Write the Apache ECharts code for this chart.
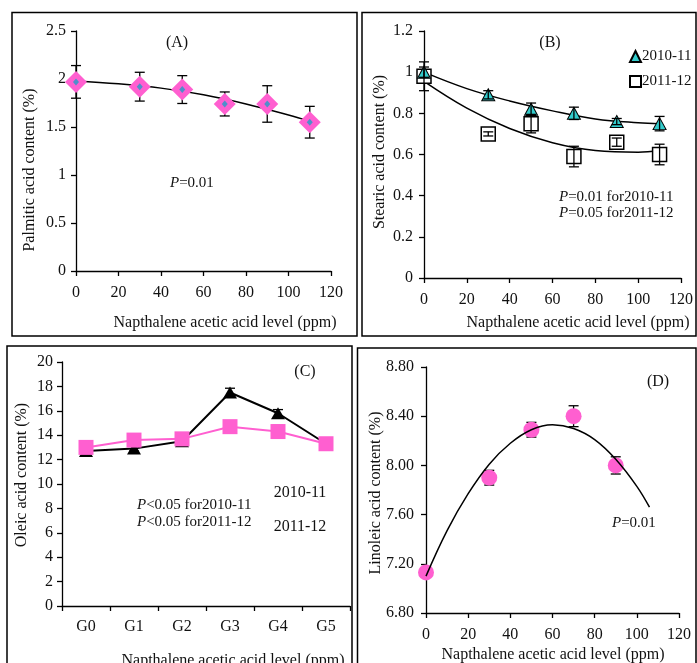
<!DOCTYPE html>
<html>
<head>
<meta charset="utf-8">
<script src="https://cdn.jsdelivr.net/npm/echarts@6/dist/echarts.min.js"></script>
<style>html,body{margin:0;padding:0;background:#fff}#c{width:697px;height:663px}</style>
</head>
<body>
<div id="c"></div>
<script>
// ---- Panel A: palmitic acid ----
const naaLevels = [0, 30, 50, 70, 90, 110];
const palmitic = [1.97, 1.92, 1.89, 1.74, 1.74, 1.55];
const palmiticErr = [0.17, 0.15, 0.145, 0.125, 0.19, 0.165];
const palmiticTrendX = [0, 20, 40, 60, 80, 100, 110];
const palmiticTrend = [1.98, 1.95, 1.905, 1.835, 1.74, 1.625, 1.56];

// ---- Panel B: stearic acid ----
const stearic1011 = [1.0, 0.89, 0.82, 0.80, 0.76, 0.75];
const stearic1011Err = [0.025, 0.02, 0.03, 0.03, 0.015, 0.035];
const stearic1112 = [0.98, 0.70, 0.75, 0.59, 0.66, 0.60];
const stearic1112Err = [0.07, 0.01, 0.045, 0.05, 0.02, 0.05];
const stearicTrendX = [0, 20, 40, 60, 80, 100, 110];
const stearicTrend1011 = [1.0, 0.92, 0.86, 0.812, 0.773, 0.754, 0.75];
const stearicTrend1112 = [0.955, 0.825, 0.726, 0.657, 0.619, 0.611, 0.619];

// ---- Panel C: oleic acid ----
const groups = ['G0', 'G1', 'G2', 'G3', 'G4', 'G5'];
const oleic1011 = [12.7, 12.9, 13.5, 17.5, 15.8, 13.3];
const oleic1011Err = [0.2, 0.2, 0.2, 0.35, 0.3, 0.2];
const oleic1112 = [13.0, 13.6, 13.7, 14.7, 14.3, 13.3];
const oleic1112Err = [0.2, 0.2, 0.2, 0.2, 0.5, 0.2];

// ---- Panel D: linoleic acid ----
const naaLevelsD = [0, 30, 50, 70, 90];
const linoleic = [7.13, 7.90, 8.29, 8.40, 8.00];
const linoleicErr = [0.03, 0.06, 0.06, 0.085, 0.07];
const linoleicTrendX = [0, 10, 20, 30, 40, 50, 60, 70, 80, 90, 100, 106];
const linoleicTrend = [7.10, 7.47, 7.77, 8.01, 8.18, 8.29, 8.33, 8.30, 8.21, 8.05, 7.83, 7.66];

// tick labels
const yTicksD = ['6.80', '7.20', '7.60', '8.00', '8.40', '8.80'];

const FONT = 'Liberation Serif';
const PINK = '#ff5fd0';
const TXT = '#111';

function zip(xs, ys) { return xs.map((x, i) => [x, ys[i]]); }
function zip3(xs, ys, es) { return xs.map((x, i) => [x, ys[i], es[i]]); }

function errRender(capW) {
  return function (params, api) {
    const x = api.value(0), y = api.value(1), e = api.value(2);
    const t = api.coord([x, y + e]);
    const b = api.coord([x, y - e]);
    const hw = capW / 2;
    const st = { stroke: '#000', lineWidth: 1.3 };
    return {
      type: 'group',
      children: [
        { type: 'line', shape: { x1: t[0], y1: t[1], x2: b[0], y2: b[1] }, style: st },
        { type: 'line', shape: { x1: t[0] - hw, y1: t[1], x2: t[0] + hw, y2: t[1] }, style: st },
        { type: 'line', shape: { x1: b[0] - hw, y1: b[1], x2: b[0] + hw, y2: b[1] }, style: st }
      ]
    };
  };
}

const axisCommon = {
  axisLine: { show: true, lineStyle: { color: '#000', width: 1.3 } },
  axisTick: { show: true, length: 5, inside: false, lineStyle: { color: '#000', width: 1.3 } },
  splitLine: { show: false },
  axisLabel: { color: TXT, fontFamily: FONT, fontSize: 16 }
};
function xVal(gi, margin) {
  return Object.assign({}, axisCommon, { gridIndex: gi, type: 'value', min: 0, max: 120, interval: 20,
    axisLabel: Object.assign({}, axisCommon.axisLabel, { margin: margin }) });
}
function yVal(gi, min, max, interval, margin, fmt) {
  const o = Object.assign({}, axisCommon, { gridIndex: gi, type: 'value', min: min, max: max, interval: interval,
    axisLabel: Object.assign({}, axisCommon.axisLabel, { margin: margin }) });
  if (fmt) o.axisLabel.formatter = fmt;
  return o;
}

const rich = {
  i: { fontStyle: 'italic', fontFamily: FONT, fontSize: 15, fill: TXT, color: TXT },
  n: { fontFamily: FONT, fontSize: 15, fill: TXT, color: TXT }
};
function txt(x, y, text, size, opts) {
  return Object.assign({
    type: 'text', x: x, y: y, z: 100,
    style: { text: text, font: size + 'px "' + FONT + '"', fill: TXT, textAlign: 'center', textVerticalAlign: 'middle' }
  }, opts || {});
}
function richTxt(x, y, text, align) {
  return { type: 'text', x: x, y: y, z: 100,
    style: { text: text, rich: rich, font: '15px "' + FONT + '"', fill: TXT, textAlign: align || 'left', textVerticalAlign: 'middle' } };
}
function vTxt(x, y, text) {
  return { type: 'text', x: x, y: y, rotation: Math.PI / 2, z: 100,
    style: { text: text, font: '16px "' + FONT + '"', fill: TXT, textAlign: 'center', textVerticalAlign: 'middle' } };
}
function box(x, y, w, h) {
  return { type: 'rect', shape: { x: x, y: y, width: w, height: h }, z: 90,
    style: { fill: 'none', stroke: '#000', lineWidth: 1.5 } };
}

const chart = echarts.init(document.getElementById('c'), null, { renderer: 'canvas' });
chart.setOption({
  backgroundColor: '#fff',
  animation: false,
  textStyle: { fontFamily: FONT },
  grid: [
    { left: 76, top: 31, width: 255, height: 240 },
    { left: 424, top: 31, width: 257, height: 247 },
    { left: 62, top: 362, width: 288, height: 244 },
    { left: 426, top: 367, width: 253, height: 246 }
  ],
  xAxis: [
    xVal(0, 14),
    xVal(1, 14),
    Object.assign({}, axisCommon, { gridIndex: 2, type: 'category', data: groups, boundaryGap: true,
      axisTick: Object.assign({}, axisCommon.axisTick, { alignWithLabel: false }),
      axisLabel: Object.assign({}, axisCommon.axisLabel, { margin: 13, fontSize: 16 }) }),
    xVal(3, 14)
  ],
  yAxis: [
    yVal(0, 0, 2.5, 0.5, 10),
    yVal(1, 0, 1.2, 0.2, 11),
    yVal(2, 0, 20, 2, 9),
    yVal(3, 6.8, 8.8, 0.4, 12, function (v) { return yTicksD[Math.round((v - 6.8) / 0.4)]; })
  ],
  legend: [{
    orient: 'vertical', left: 624, top: 44, itemGap: 10, itemWidth: 11, itemHeight: 11,
    textStyle: { fontFamily: FONT, fontSize: 15, color: TXT, padding: [0, 0, 0, -4] },
    data: [{ name: '2010-11', icon: 'triangle' }, { name: '2011-12', icon: 'rect' }]
  }],
  series: [
    // A
    { type: 'custom', xAxisIndex: 0, yAxisIndex: 0, renderItem: errRender(10), data: zip3(naaLevels, palmitic, palmiticErr), z: 2, silent: true },
    { type: 'line', xAxisIndex: 0, yAxisIndex: 0, data: zip(palmiticTrendX, palmiticTrend), smooth: 0.4, showSymbol: false, symbol: 'none', lineStyle: { color: '#000', width: 1.5 }, z: 3 },
    { type: 'scatter', xAxisIndex: 0, yAxisIndex: 0, data: zip(naaLevels, palmitic), symbol: 'diamond', symbolSize: [22, 22], itemStyle: { color: PINK, opacity: 1 }, z: 4 },
    { type: 'scatter', xAxisIndex: 0, yAxisIndex: 0, data: zip(naaLevels, palmitic), symbol: 'diamond', symbolSize: [6, 7], itemStyle: { color: '#4f8fca', opacity: 1 }, z: 5 },
    // B
    { type: 'line', xAxisIndex: 1, yAxisIndex: 1, data: zip(stearicTrendX, stearicTrend1011), smooth: 0.4, symbol: 'none', lineStyle: { color: '#000', width: 1.5 }, z: 2 },
    { type: 'line', xAxisIndex: 1, yAxisIndex: 1, data: zip(stearicTrendX, stearicTrend1112), smooth: 0.4, symbol: 'none', lineStyle: { color: '#000', width: 1.5 }, z: 2 },
    { name: '2011-12', type: 'scatter', xAxisIndex: 1, yAxisIndex: 1, data: zip(naaLevels, stearic1112), symbol: 'rect', symbolSize: 14, itemStyle: { color: '#fff', borderColor: '#000', borderWidth: 1.5, opacity: 1 }, z: 3 },
    { name: '2010-11', type: 'scatter', xAxisIndex: 1, yAxisIndex: 1, data: zip(naaLevels, stearic1011), symbol: 'triangle', symbolSize: [13, 12], itemStyle: { color: '#33cccc', borderColor: '#000', borderWidth: 1, opacity: 1 }, z: 4 },
    { type: 'custom', xAxisIndex: 1, yAxisIndex: 1, renderItem: errRender(10), data: zip3(naaLevels, stearic1112, stearic1112Err), z: 5, silent: true },
    { type: 'custom', xAxisIndex: 1, yAxisIndex: 1, renderItem: errRender(10), data: zip3(naaLevels, stearic1011, stearic1011Err), z: 5, silent: true },
    // C
    { type: 'line', xAxisIndex: 2, yAxisIndex: 2, data: oleic1011, symbol: 'triangle', symbolSize: [14, 12], lineStyle: { color: '#000', width: 2 }, itemStyle: { color: '#000' }, z: 3 },
    { type: 'custom', xAxisIndex: 2, yAxisIndex: 2, renderItem: errRender(10), data: zip3([0, 1, 2, 3, 4, 5], oleic1011, oleic1011Err), z: 2, silent: true },
    { type: 'custom', xAxisIndex: 2, yAxisIndex: 2, renderItem: errRender(10), data: zip3([0, 1, 2, 3, 4, 5], oleic1112, oleic1112Err), z: 4, silent: true },
    { type: 'line', xAxisIndex: 2, yAxisIndex: 2, data: oleic1112, symbol: 'rect', symbolSize: 15, lineStyle: { color: PINK, width: 2 }, itemStyle: { color: PINK }, z: 5 },
    // D
    { type: 'custom', xAxisIndex: 3, yAxisIndex: 3, renderItem: errRender(10), data: zip3(naaLevelsD, linoleic, linoleicErr), z: 2, silent: true },
    { type: 'scatter', xAxisIndex: 3, yAxisIndex: 3, data: zip(naaLevelsD, linoleic), symbol: 'circle', symbolSize: 16, itemStyle: { color: PINK, opacity: 1 }, z: 3 },
    { type: 'line', xAxisIndex: 3, yAxisIndex: 3, data: zip(linoleicTrendX, linoleicTrend), smooth: 0.4, symbol: 'none', lineStyle: { color: '#000', width: 1.5 }, z: 4 }
  ],
  graphic: [
    box(12, 12.5, 345, 323.5),
    box(362, 12.5, 334, 323.5),
    box(7, 346, 345, 330),
    box(357.5, 348, 338.5, 330),
    // A texts
    txt(177, 43, '(A)', 16),
    richTxt(170, 183, '{i|P}{n|=0.01}'),
    txt(225, 323, 'Napthalene acetic acid level (ppm)', 16),
    vTxt(30, 170, 'Palmitic acid content (%)'),
    // B texts
    txt(550, 43, '(B)', 16),
    richTxt(559, 197, '{i|P}{n|=0.01 for2010-11}'),
    richTxt(559, 213, '{i|P}{n|=0.05 for2011-12}'),
    txt(578, 323, 'Napthalene acetic acid level (ppm)', 16),
    vTxt(380, 152, 'Stearic acid content (%)'),
    // C texts
    txt(305, 372, '(C)', 16),
    richTxt(137, 505, '{i|P}{n|<0.05 for2010-11}'),
    richTxt(137, 522, '{i|P}{n|<0.05 for2011-12}'),
    txt(300, 493, '2010-11', 16),
    txt(300, 527, '2011-12', 16),
    txt(233, 661, 'Napthalene acetic acid level (ppm)', 16),
    vTxt(22, 475, 'Oleic acid content (%)'),
    // D texts
    txt(658, 382, '(D)', 16),
    richTxt(612, 523, '{i|P}{n|=0.01}'),
    txt(553, 655, 'Napthalene acetic acid level (ppm)', 16),
    vTxt(376, 493, 'Linoleic acid content (%)')
  ]
});
</script>
</body>
</html>
